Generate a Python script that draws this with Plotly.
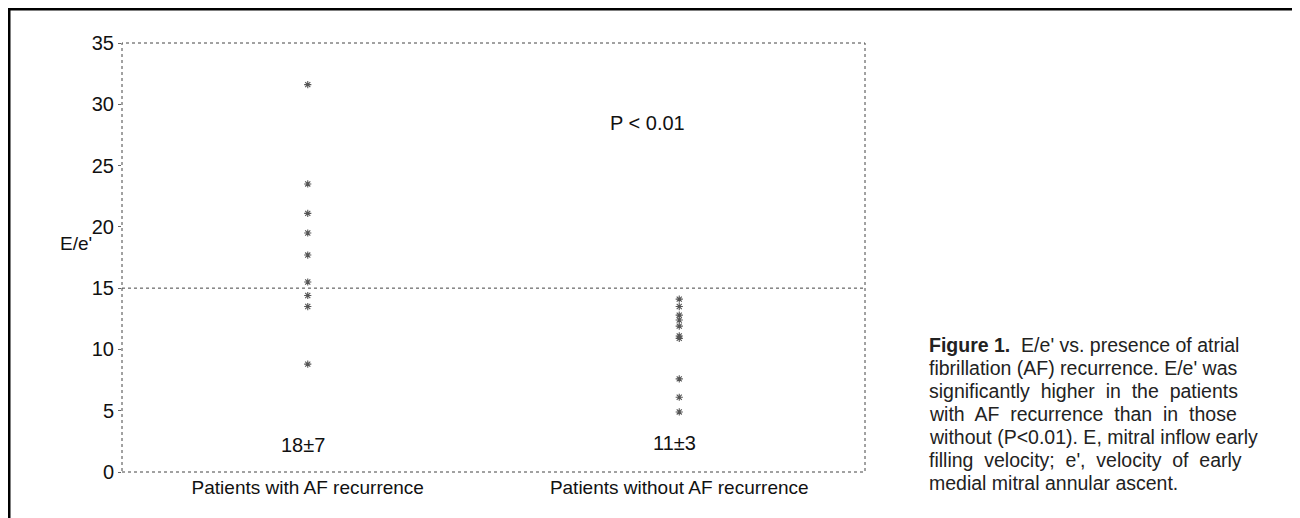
import plotly.graph_objects as go

categories = ["Patients with AF recurrence", "Patients without AF recurrence"]
with_af = [31.6, 23.5, 21.1, 19.5, 17.7, 15.5, 14.4, 13.5, 8.8]
without_af = [14.1, 13.5, 12.8, 12.4, 11.9, 11.1, 10.9, 7.6, 6.1, 4.9]
summary = ["18±7", "11±3"]
threshold = 15
y_ticks = [0, 5, 10, 15, 20, 25, 30, 35]
caption_lines = [
    "<b>Figure 1.</b>  E/e' vs. presence of atrial",
    "fibrillation (AF) recurrence. E/e' was",
    "significantly  higher  in  the  patients",
    "with  AF  recurrence  than  in  those",
    "without (P<0.01). E, mitral inflow early",
    "filling  velocity;  e',  velocity  of  early",
    "medial mitral annular ascent.",
]

FONT = "Liberation Sans, Arial, sans-serif"
OFF = 8  # page body margin offset
W, H = 1300, 518
# screen-space plot box
L, R, T, B = 122, 865, 43, 472
pw, ph = R - L, B - T

def px(x):
    return (x - L) / pw

def py(y):
    return (B - y) / ph

fig = go.Figure()
marker = dict(symbol="asterisk", size=6, color="#555555",
              line=dict(color="#555555", width=1.1))
fig.add_trace(go.Scatter(x=[1] * len(with_af), y=with_af, mode="markers",
                         marker=marker, showlegend=False))
fig.add_trace(go.Scatter(x=[2] * len(without_af), y=without_af, mode="markers",
                         marker=marker, showlegend=False))

shapes = [
    dict(type="rect", xref="paper", yref="paper", x0=0, x1=1, y0=0, y1=1,
         line=dict(color="#444444", width=1, dash="dot")),
    dict(type="line", xref="paper", yref="y", x0=0, x1=1, y0=threshold, y1=threshold,
         line=dict(color="#444444", width=1, dash="dot")),
    dict(type="rect", xref="paper", yref="paper",
         x0=px(9), x1=px(1297), y0=py(540), y1=py(9),
         line=dict(color="black", width=3)),
]

TXT = "#111111"
annotations = [
    dict(x=0.987, y=2.2, xref="x", yref="y", text=summary[0], showarrow=False,
         font=dict(size=20, family=FONT, color=TXT)),
    dict(x=1.987, y=2.4, xref="x", yref="y", text=summary[1], showarrow=False,
         font=dict(size=20, family=FONT, color=TXT)),
    dict(x=px(687), y=py(110), xref="paper", yref="paper", text="P < 0.01",
         showarrow=False, font=dict(size=20, family=FONT, color=TXT)),
    dict(x=px(58), y=py(243), xref="paper", yref="paper", text="E/e'",
         showarrow=False, xanchor="left",
         font=dict(size=19, family=FONT, color=TXT)),
]
for i, line in enumerate(caption_lines):
    annotations.append(dict(
        x=px(927), y=py(345 + i * 23), xref="paper", yref="paper", text=line,
        showarrow=False, xanchor="left", yanchor="middle",
        font=dict(size=19.5, family=FONT, color="#222222")))

fig.update_layout(
    width=W, height=H,
    margin=dict(l=L - OFF, r=W - (R - OFF), t=T - OFF, b=H - (B - OFF), pad=0),
    paper_bgcolor="white", plot_bgcolor="white",
    shapes=shapes, annotations=annotations,
    xaxis=dict(range=[0.5, 2.5], tickmode="array", tickvals=[1, 2],
               ticktext=categories, showgrid=False, zeroline=False,
               showline=False, ticks="", ticklabelstandoff=2,
               tickfont=dict(size=19, family=FONT, color=TXT)),
    yaxis=dict(range=[0, 35], tickmode="array", tickvals=y_ticks,
               showgrid=False, zeroline=False, showline=False,
               ticks="outside", ticklen=3, tickcolor="#666666",
               tickfont=dict(size=20, family=FONT, color=TXT)),
)

fig.write_html("out.html")
